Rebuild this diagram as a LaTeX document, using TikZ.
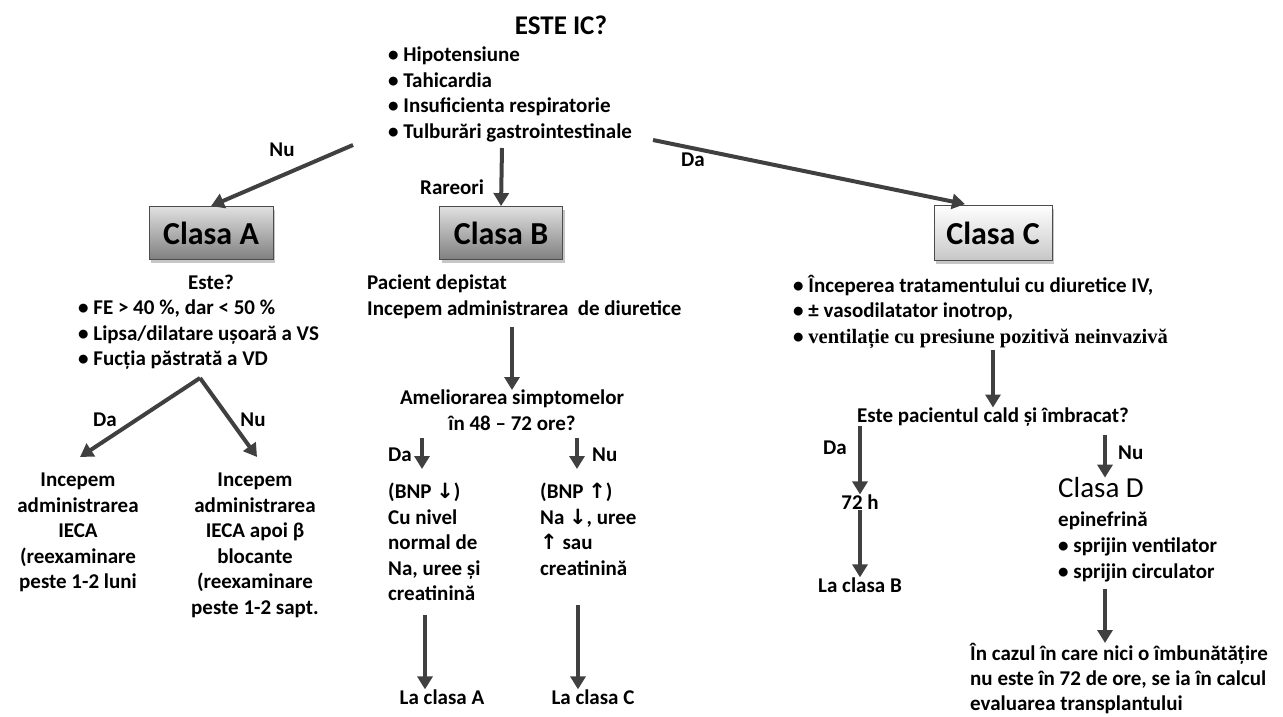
\documentclass[tikz,border=0pt]{standalone}
\usepackage{fontspec}
\setmainfont{Carlito}
\newfontfamily\timesf{Liberation Serif}
\newfontfamily\djv{DejaVu Sans}
\usetikzlibrary{arrows.meta,shadows,calc}
\definecolor{arrgray}{HTML}{404040}
\newcommand{\dn}{{\djv\bfseries\char"2193}}
\newcommand{\up}{{\djv\bfseries\char"2191}}
\tikzset{
  arr/.style={draw=arrgray, line width=4pt, -{Triangle[length=13pt,width=15pt]}},
  txt/.style={font=\fontsize{21}{25.5}\selectfont\bfseries, inner sep=0pt, align=left},
  ctxt/.style={txt, align=center},
  lbl/.style={font=\fontsize{21}{25.5}\selectfont\bfseries, inner sep=0pt},
  classbox/.style={draw=black!70, line width=0.8pt, minimum height=53pt,
     font=\fontsize{32}{36}\selectfont\bfseries, inner sep=0pt,
     drop shadow={shadow xshift=2pt, shadow yshift=-3pt, opacity=0.45}},
  darkbox/.style={classbox, top color=black!12, bottom color=black!50},
  lightbox/.style={classbox, top color=white, bottom color=black!22},
}
\begin{document}
\begin{tikzpicture}[x=1pt,y=-1pt]
\useasboundingbox (0,0) rectangle (1283,717);
% title and symptom list
\node[font=\fontsize{27}{30}\selectfont\bfseries, inner sep=0pt] (title) at (561,25) {ESTE IC?};
\node[txt, anchor=north west] (list) at (388,47) {• Hipotensiune\\• Tahicardia\\• Insuficienta respiratorie\\• Tulburări gastrointestinale};
% class boxes
\node[darkbox, minimum width=124pt] (A) at (211,233) {Clasa A};
\node[darkbox, minimum width=123pt] (B) at (501,233) {Clasa B};
\node[lightbox, minimum width=118pt, minimum height=55pt] (C) at (993,233) {Clasa C};
% top arrows
\coordinate (nuS) at (353,145);
\coordinate (rarS) at (502,148);
\coordinate (daS) at (653,140);
\coordinate (cTip) at ($(C.north)+(-28,-1)$);
\draw[arr] (nuS) -- (A.north);
\draw[arr] (rarS) -- (B.north);
\draw[arr] (daS) -- (cTip);
\node[lbl] (lnu) at (282,150) {Nu};
\node[lbl, anchor=west] (lrar) at (420,187) {Rareori};
\node[lbl] (lda) at (693,160) {Da};
% Class A column
\node[lbl] (aeste) at (211,282) {Este?};
\node[txt, anchor=north west] (alist) at (78,300) {• FE > 40 \%, dar < 50 \%\\• Lipsa/dilatare ușoară a VS\\• Fucția păstrată a VD};
\coordinate (apex) at (200,378);
\node[ctxt, anchor=north] (L) at (78,473) {Incepem\\administrarea\\IECA\\(reexaminare\\peste 1-2 luni};
\node[ctxt, anchor=north] (R) at (255,473) {Incepem\\administrarea\\IECA apoi β\\blocante\\(reexaminare\\peste 1-2 sapt.};
\draw[arr] (apex) -- ($(L.north)+(2,-16)$);
\draw[arr] (apex) -- ($(R.north)+(2,-16)$);
\node[lbl] (lda2) at (105,420) {Da};
\node[lbl] (lnu2) at (253,420) {Nu};
% Class B column
\node[txt, anchor=north west] (btext) at (367,275) {Pacient depistat\\Incepem administrarea\ \ de diuretice};
\node[ctxt, anchor=north] (amel) at (512,390) {Ameliorarea simptomelor\\în 48 – 72 ore?};
\draw[arr] (amel.north |- 0,327) -- (amel.north);
\node[txt, anchor=north west] (bl) at (388,483) {(BNP \dn)\\Cu nivel\\normal de\\Na, uree și\\creatinină};
\node[txt, anchor=north west] (br) at (540,483) {(BNP \up)\\Na \dn, uree\\\up{} sau\\creatinină};
\coordinate (bdaS) at (422,438);
\coordinate (bdaE) at (422,469);
\coordinate (bnuS) at (577,438);
\coordinate (bnuE) at (577,469);
\draw[arr] (bdaS) -- (bdaE);
\draw[arr] (bnuS) -- (bnuE);
\node[lbl, anchor=west] (lda3) at (388,455) {Da};
\node[lbl, anchor=west] (lnu3) at (592,455) {Nu};
\node[lbl] (laA) at (442,697) {La clasa A};
\node[lbl] (laC) at (593,697) {La clasa C};
\draw[arr] (425,615) -- (laA.north -| 425,0);
\draw[arr] (578,605) -- (laC.north -| 578,0);
% Class C column
\node[txt, anchor=north west] (ctext) at (793,275) {• Începerea tratamentului cu diuretice IV,\\• ± vasodilatator inotrop,\\• {\timesf\fontsize{20.5}{25.5}\selectfont ventilație cu presiune pozitivă neinvazivă}};
\node[lbl] (q) at (993,417) {Este pacientul cald și îmbracat?};
\draw[arr] (q.north |- 0,350) -- (q.north);
\node[lbl] (h72) at (860,502) {72 h};
\node[lbl] (laB) at (860,585) {La clasa B};
\draw[arr] (h72 |- q.south) -- (h72.north);
\draw[arr] (h72.south) -- (laB.north);
\node[lbl] (lda4) at (835,448) {Da};
\node[font=\fontsize{29}{32}\selectfont, inner sep=0pt, anchor=west] (D) at (1058,488) {Clasa D};
\coordinate (dnuS) at (1105,435);
\draw[arr] (dnuS) -- (dnuS |- D.north);
\node[lbl, anchor=west] (lnu4) at (1118,453) {Nu};
\node[txt, anchor=north west, font=\fontsize{21}{26}\selectfont\bfseries] (dtext) at (1058,512) {epinefrină\\• sprijin ventilator\\• sprijin circulator};
\node[txt, anchor=north west, font=\fontsize{21}{25}\selectfont\bfseries] (final) at (970,643) {În cazul în care nici o îmbunătățire\\nu este în 72 de ore, se ia în calcul\\evaluarea transplantului};
\draw[arr] (dnuS |- dtext.south) ++(0,6) -- (dnuS |- final.north);
\end{tikzpicture}
\end{document}
